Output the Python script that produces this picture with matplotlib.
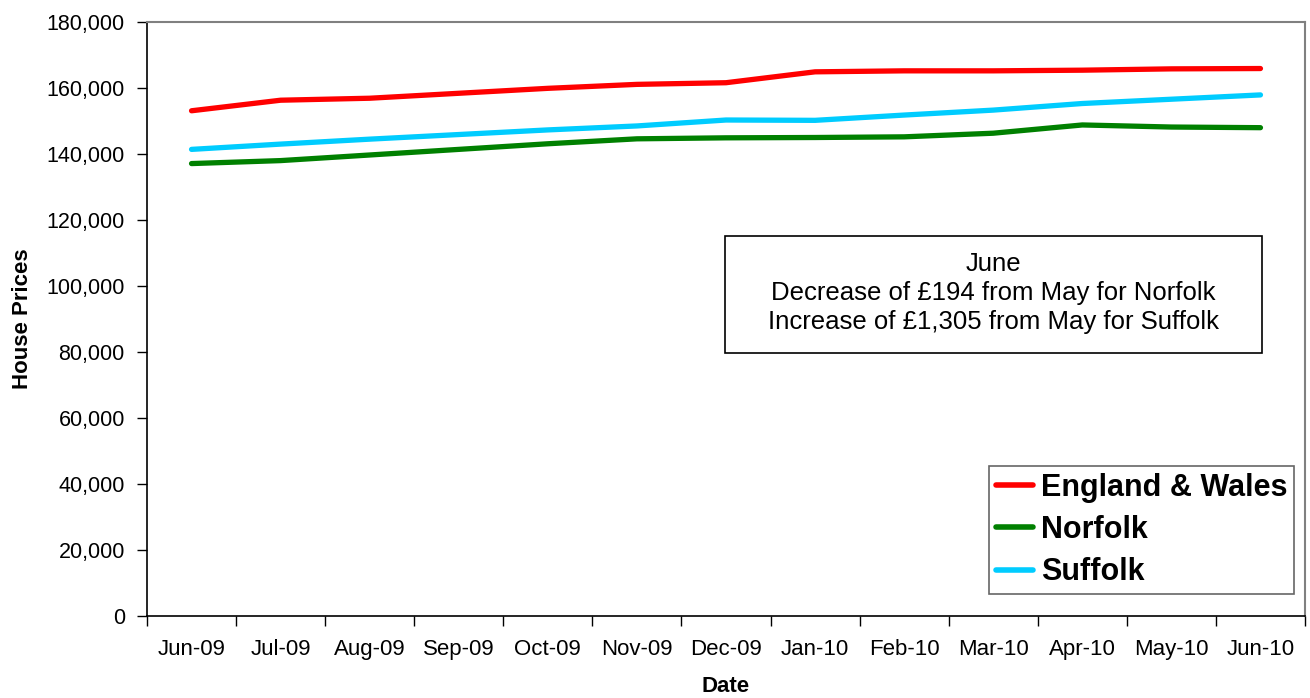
import matplotlib
matplotlib.use("Agg")
from matplotlib import pyplot as plt
from matplotlib.patches import Rectangle
from matplotlib.ticker import FuncFormatter
import numpy as np

plt.rcParams['font.family'] = ['Liberation Sans', 'DejaVu Sans']

dates = ['Jun-09', 'Jul-09', 'Aug-09', 'Sep-09', 'Oct-09', 'Nov-09', 'Dec-09',
         'Jan-10', 'Feb-10', 'Mar-10', 'Apr-10', 'May-10', 'Jun-10']
england_wales = [153100, 156300, 156900, 158400, 159900, 161100, 161600,
                 164900, 165200, 165200, 165400, 165800, 165900]
norfolk = [137100, 138000, 139700, 141400, 143100, 144600, 144900,
           145000, 145200, 146300, 148800, 148170, 147976]
suffolk = [141400, 143000, 144500, 145900, 147300, 148500, 150300,
           150200, 151800, 153300, 155300, 156600, 157905]
series_names = ['England & Wales', 'Norfolk', 'Suffolk']
series_colors = ['#FF0000', '#008000', '#00CCFF']
note_lines = ['June',
              'Decrease of \u00a3194 from May for Norfolk',
              'Increase of \u00a31,305 from May for Suffolk']


def plot_house_prices():
    fig = plt.figure(figsize=(13.1, 6.98), dpi=100)
    ax = fig.add_axes([147 / 1310, 1 - 616 / 698, 1158 / 1310, 594 / 698])

    x = np.arange(len(dates))
    for values, name, color in zip([england_wales, norfolk, suffolk], series_names, series_colors):
        ax.plot(x, values, color=color, linewidth=3.8, label=name,
                solid_capstyle='round', solid_joinstyle='round')

    ax.set_xlim(-0.5, len(dates) - 0.5)
    ax.set_ylim(0, 180000)
    ax.set_yticks(np.arange(0, 180001, 20000))
    ax.yaxis.set_major_formatter(FuncFormatter(lambda v, p: f'{int(v):,}'))

    # category boundaries get tick marks, labels sit in the middle
    ax.set_xticks(np.arange(-0.5, len(dates), 1))
    ax.set_xticklabels([])
    ax.set_xticks(x, minor=True)
    ax.set_xticklabels(dates, minor=True)
    ax.tick_params(axis='x', which='major', length=7, width=1, direction='out')
    ax.tick_params(axis='x', which='minor', length=0, pad=16.5, labelsize=16)
    ax.tick_params(axis='y', length=7, width=1, direction='out', pad=9, labelsize=15.5)

    for side in ['left', 'bottom']:
        ax.spines[side].set_color('black')
        ax.spines[side].set_linewidth(1.2)
    for side in ['top', 'right']:
        ax.spines[side].set_color('#808080')
        ax.spines[side].set_linewidth(1.5)

    fig.text(23 / 1310, 0.5 * (1 - 616 / 698) + 0.5 * (1 - 22 / 698), 'House Prices',
             rotation=90, ha='center', va='center', fontsize=16, fontweight='bold')
    fig.text((147 + 579) / 1310, 1 - 692 / 698, 'Date',
             ha='center', va='baseline', fontsize=16, fontweight='bold')

    # note box
    ax.add_patch(Rectangle((0.499, 0.443), 0.464, 0.197, transform=ax.transAxes,
                           facecolor='white', edgecolor='black', linewidth=1.2, zorder=5))
    ax.text(0.731, 0.544, '\n'.join(note_lines), transform=ax.transAxes,
            ha='center', va='center', fontsize=18.5, linespacing=1.25, zorder=6)

    leg = ax.legend(loc='lower right', bbox_to_anchor=(0.9905, 0.037),
                    prop={'size': 22, 'weight': 'bold'}, frameon=True, fancybox=False,
                    handlelength=1.2, handletextpad=0.26, labelspacing=0.4,
                    borderpad=0.22, borderaxespad=0)
    leg.get_frame().set_edgecolor('#404040')
    leg.get_frame().set_linewidth(1.2)
    for line in leg.get_lines():
        line.set_linewidth(4)

    fig.savefig('out.png', dpi=100)


def main():
    plot_house_prices()


if __name__ == "__main__":
    main()
